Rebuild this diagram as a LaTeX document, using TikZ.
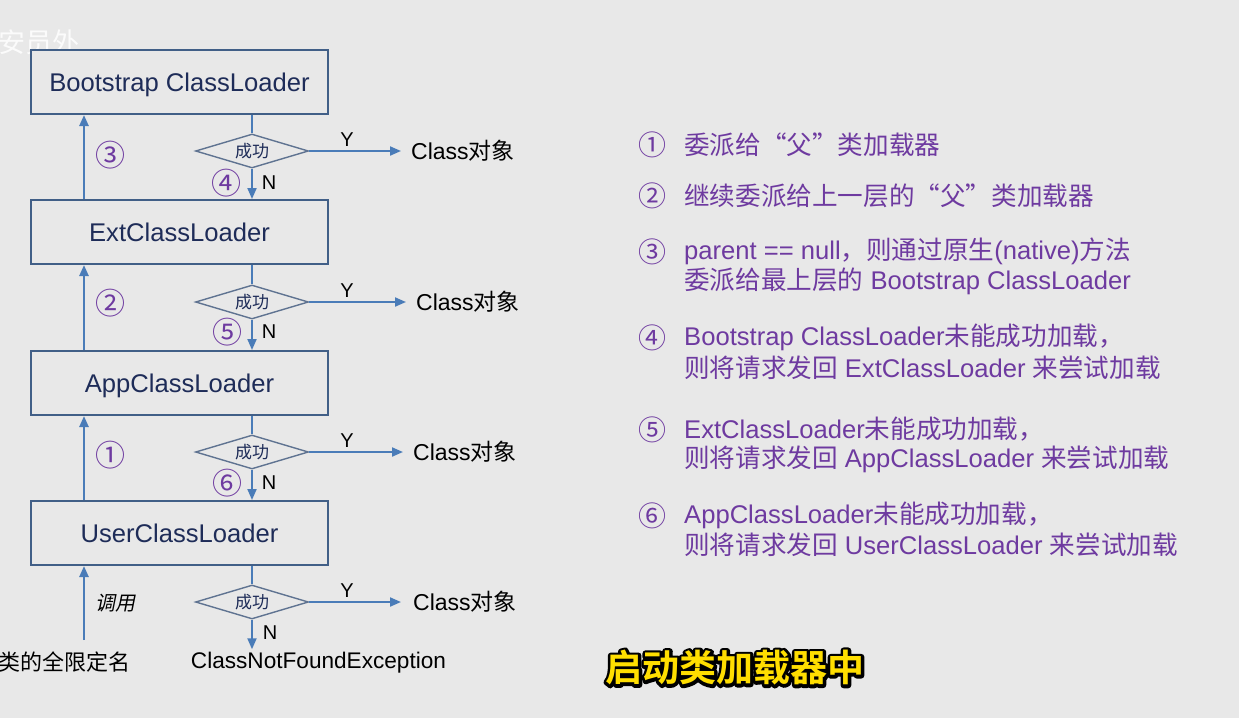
\documentclass[tikz,border=0pt]{standalone}
\usepackage{fontspec}
\setmainfont{Liberation Sans}
\newfontfamily\cjk{Noto Sans CJK SC}
\newfontfamily\cjkit[FakeSlant=0.2]{Noto Sans CJK SC}
\newfontfamily\cjkbold{Noto Sans CJK SC}[BoldFont={* Bold}]
\usetikzlibrary{arrows.meta,shapes.geometric}
\newcommand\zh[1]{{\cjk #1}}
\newcommand\fs[1]{\fontsize{#1}{#1}\selectfont}
\definecolor{bg}{RGB}{232,232,232}
\definecolor{boxline}{RGB}{65,95,135}
\definecolor{boxtext}{RGB}{30,44,88}
\definecolor{arrowc}{RGB}{74,124,184}
\definecolor{diaml}{RGB}{95,115,145}
\definecolor{purp}{RGB}{110,58,160}
\definecolor{subyel}{RGB}{255,222,0}
\tikzset{
  loader/.style={draw=boxline, line width=2pt, fill=bg, minimum width=297pt, minimum height=64pt, inner sep=0pt, text height=25pt, text depth=6pt, text=boxtext, font=\fs{25.6}},
  decision/.style={diamond, draw=diaml, line width=1.4pt, fill=bg, minimum width=113pt, minimum height=34pt, aspect=3.3, inner sep=0pt, text=boxtext, font=\cjk\fs{17}},
  arr/.style={draw=arrowc, line width=2pt, -{Triangle[length=11pt,width=9pt]}},
  plainline/.style={draw=arrowc, line width=2pt},
  yn/.style={font=\fs{20}, text=black, inner sep=0pt},
  result/.style={font=\fs{23}, text=black, inner sep=0pt, anchor=west},
  lnum/.style={font=\cjk\fs{30}, text=purp, inner sep=0pt},
  rnum/.style={font=\cjk\fs{28}, text=purp, inner sep=0pt},
  rtext/.style={font=\fs{25.6}, text=purp, inner sep=0pt, anchor=west},
}
\begin{document}
\begin{tikzpicture}[x=1pt,y=-1pt]
\fill[bg] (0,0) rectangle (1239,718);
\useasboundingbox (0,0) rectangle (1239,718);

% watermark
\node[font=\cjk\fs{27}, text=white, opacity=0.85, anchor=west, inner sep=0pt] (wm) at (-2,42) {安员外};

% loaders
\node[loader] (boot) at (179.5,82) {Bootstrap ClassLoader};
\node[loader] (ext) at (179.5,232) {ExtClassLoader};
\node[loader] (app) at (179.5,383) {AppClassLoader};
\node[loader] (user) at (179.5,533) {UserClassLoader};

% decisions
\node[decision] (d1) at (252,151) {成功};
\node[decision] (d2) at (252,302) {成功};
\node[decision] (d3) at (252,452) {成功};
\node[decision] (d4) at (252,602) {成功};

% results
\node[result] (c1) at (411,151) {Class\zh{对象}};
\node[result] (c2) at (416,302) {Class\zh{对象}};
\node[result] (c3) at (413,452) {Class\zh{对象}};
\node[result] (c4) at (413,602) {Class\zh{对象}};
\node[font=\fs{22.6}, text=black, inner sep=0pt] (exc) at (318.5,663) {ClassNotFoundException};

% start
\node[font=\cjk\fs{22}, text=black, inner sep=0pt, anchor=east] (start) at (131,662) {类的全限定名};
\coordinate (s0) at (84,640);

% connectors box -> decision
\draw[plainline] (d1.north |- boot.south) -- (d1.north);
\draw[plainline] (d2.north |- ext.south) -- (d2.north);
\draw[plainline] (d3.north |- app.south) -- (d3.north);
\draw[plainline] (d4.north |- user.south) -- (d4.north);

% N arrows
\draw[arr] (d1.south) -- (d1.south |- ext.north);
\draw[arr] (d2.south) -- (d2.south |- app.north);
\draw[arr] (d3.south) -- (d3.south |- user.north);
\draw[arr, shorten >=3pt] (d4.south) -- (d4.south |- exc.north);

% Y arrows
\draw[arr, shorten >=10pt] (d1.east) -- (c1.west);
\draw[arr, shorten >=10pt] (d2.east) -- (c2.west);
\draw[arr, shorten >=10pt] (d3.east) -- (c3.west);
\draw[arr, shorten >=12pt] (d4.east) -- (c4.west);

% Y / N labels
\node[yn] (y1) at (347,140) {Y};
\node[yn] (y2) at (347,291) {Y};
\node[yn] (y3) at (347,441) {Y};
\node[yn] (y4) at (347,591) {Y};
\node[yn] (n1) at (269,183) {N};
\node[yn] (n2) at (269,332) {N};
\node[yn] (n3) at (269,483) {N};
\node[yn] (n4) at (270,633) {N};

% up arrows
\draw[arr, line width=2.4pt] (s0) -- (s0 |- user.south);
\draw[arr, line width=2.4pt] (s0 |- user.north) -- (s0 |- app.south);
\draw[arr, line width=2.4pt] (s0 |- app.north) -- (s0 |- ext.south);
\draw[arr, line width=2.4pt] (s0 |- ext.north) -- (s0 |- boot.south);

% left numbers
\node[lnum] (l3) at (110,155) {③};
\node[lnum] (l2) at (110,303) {②};
\node[lnum] (l1) at (110,455) {①};
\node[font=\cjkit\fs{20}, text=black, inner sep=0pt] (call) at (115,603) {调用};
\node[lnum] (l4) at (226,183) {④};
\node[lnum] (l5) at (227,332) {⑤};
\node[lnum] (l6) at (227,483) {⑥};

% right explanation
\node[rnum] (r1) at (652,145) {①};
\node[rtext] (t1) at (684,145) {\zh{委派给“父”类加载器}};
\node[rnum] (r2) at (652,196) {②};
\node[rtext] (t2) at (684,196) {\zh{继续委派给上一层的“父”类加载器}};
\node[rnum] (r3) at (652,252) {③};
\node[rtext] (t3a) at (684,251) {parent == null\zh{，则通过原生}(native)\zh{方法}};
\node[rtext] (t3b) at (684,281) {\zh{委派给最上层的} Bootstrap ClassLoader};
\node[rnum] (r4) at (652,338) {④};
\node[rtext] (t4a) at (684,337) {Bootstrap ClassLoader\zh{未能成功加载，}};
\node[rtext] (t4b) at (684,368) {\zh{则将请求发回} ExtClassLoader \zh{来尝试加载}};
\node[rnum] (r5) at (652,430) {⑤};
\node[rtext] (t5a) at (684,429) {ExtClassLoader\zh{未能成功加载，}};
\node[rtext] (t5b) at (684,459) {\zh{则将请求发回} AppClassLoader \zh{来尝试加载}};
\node[rnum] (r6) at (652,516) {⑥};
\node[rtext] (t6a) at (684,515) {AppClassLoader\zh{未能成功加载，}};
\node[rtext] (t6b) at (684,545) {\zh{则将请求发回} UserClassLoader \zh{来尝试加载}};

% subtitle: black stroked outline below, yellow fill on top
\node[font=\cjkbold\bfseries\fs{37}, text=black, inner sep=0pt] (subo) at (735,668)
  {\special{pdf:literal direct 1 Tr 6 w 1 j}启动类加载器中\special{pdf:literal direct 0 Tr}};
\node[font=\cjkbold\bfseries\fs{37}, text=subyel, inner sep=0pt] (sub) at (735,668) {启动类加载器中};
\end{tikzpicture}
\end{document}
